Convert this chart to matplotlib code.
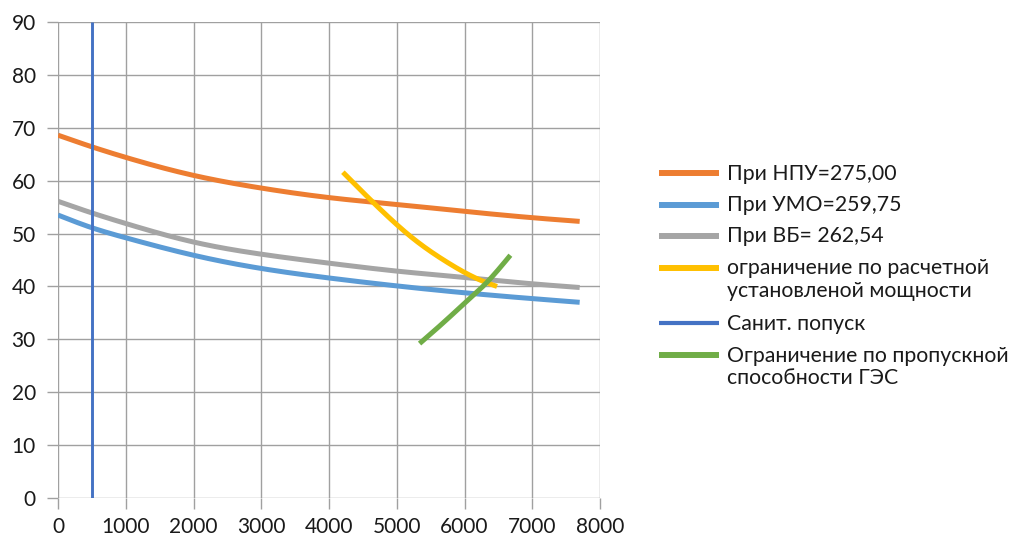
import numpy as np
import matplotlib
matplotlib.use("Agg")
import matplotlib.pyplot as plt
from matplotlib.lines import Line2D

plt.rcParams['font.family'] = ['Lato', 'DejaVu Sans']

# ---- data ----
q_main = [0, 500, 1000, 2000, 3000, 4000, 5000, 6000, 7000, 7700]
h_npu = [68.6, 66.4, 64.4, 61.0, 58.6, 56.8, 55.5, 54.2, 53.0, 52.3]
h_umo = [53.5, 51.1, 49.2, 45.9, 43.4, 41.6, 40.1, 38.8, 37.7, 37.0]
h_vb = [56.1, 53.9, 51.9, 48.4, 46.1, 44.4, 42.9, 41.7, 40.5, 39.8]

q_power = [4205, 4756, 5248, 5741, 6233, 6480]
h_power = [61.6, 54.6, 49.0, 44.6, 41.2, 40.0]

q_sanit = [500, 500]
h_sanit = [0, 90]

q_capacity = [5337, 5692, 6000, 6332, 6677]
h_capacity = [29.2, 33.2, 36.8, 40.8, 45.9]

labels = ["При НПУ=275,00", "При УМО=259,75", "При ВБ= 262,54",
          "ограничение по расчетной\nустановленой мощности",
          "Санит. попуск",
          "Ограничение по пропускной\nспособности ГЭС"]
colors = ["#ED7D31", "#5B9BD5", "#A5A5A5", "#FFC000", "#4472C4", "#70AD47"]

x_ticks = list(range(0, 8001, 1000))
y_ticks = list(range(0, 91, 10))


def smooth(x, y, n=300):
    """Natural cubic spline rendering of a smoothed line y(x)."""
    x = np.asarray(x, float)
    y = np.asarray(y, float)
    if len(x) < 3 or np.any(np.diff(x) <= 0):
        return x, y
    k = len(x)
    h = np.diff(x)
    A = np.zeros((k, k))
    r = np.zeros(k)
    A[0, 0] = A[-1, -1] = 1
    for i in range(1, k - 1):
        A[i, i - 1] = h[i - 1]
        A[i, i] = 2 * (h[i - 1] + h[i])
        A[i, i + 1] = h[i]
        r[i] = 6 * ((y[i + 1] - y[i]) / h[i] - (y[i] - y[i - 1]) / h[i - 1])
    m = np.linalg.solve(A, r)
    xs = np.linspace(x[0], x[-1], n)
    idx = np.clip(np.searchsorted(x, xs) - 1, 0, k - 2)
    x0, x1 = x[idx], x[idx + 1]
    hh = x1 - x0
    a = (x1 - xs) / hh
    b = (xs - x0) / hh
    ys = (a * y[idx] + b * y[idx + 1]
          + ((a ** 3 - a) * m[idx] + (b ** 3 - b) * m[idx + 1]) * hh ** 2 / 6)
    return xs, ys


W, H = 1012, 539
fig = plt.figure(figsize=(W / 100, H / 100), dpi=100)
ax = fig.add_axes([58 / W, 1 - 498 / H, (600 - 58) / W, (498 - 22) / H])

series = [(q_main, h_npu), (q_main, h_umo), (q_main, h_vb),
          (q_power, h_power), (q_sanit, h_sanit), (q_capacity, h_capacity)]
widths = [3.6, 3.6, 3.6, 3.6, 2.1, 3.6]
order = [4, 0, 1, 2, 3, 5]
for i in order:
    xs, ys = series[i]
    sx, sy = smooth(xs, ys)
    ax.plot(sx, sy, color=colors[i], lw=widths[i], solid_capstyle='butt',
            label=labels[i], zorder=3 + i * 0.1)

ax.set_xlim(0, 8000)
ax.set_ylim(0, 90)
ax.set_xticks(x_ticks)
ax.set_yticks(y_ticks)
ax.grid(True, color="#A0A0A0", lw=1.0)
ax.set_axisbelow(True)
for s in ax.spines.values():
    s.set_visible(False)
ax.tick_params(axis='both', colors="#A0A0A0", labelcolor="#1a1a1a",
               labelsize=15, length=8, width=1.0)
ax.tick_params(axis='x', pad=6)
ax.tick_params(axis='y', pad=8)

# ---- legend (drawn at the reference's positions) ----
handle_y = [173, 204.5, 236, 268, 323, 355]
line_gap = 22.8
x0, x1, tx = 659, 719, 727
for i in range(6):
    fy = 1 - handle_y[i] / H
    fig.add_artist(Line2D([x0 / W, x1 / W], [fy, fy], transform=fig.transFigure,
                          color=colors[i], lw=4.3 if i != 4 else 3.0,
                          solid_capstyle='butt'))
    for j, part in enumerate(labels[i].split("\n")):
        fig.text(tx / W, 1 - (handle_y[i] + 6.5 + j * line_gap) / H, part,
                 fontsize=15.3, color="#1a1a1a", ha='left', va='baseline')

fig.savefig("out.png", dpi=100)
